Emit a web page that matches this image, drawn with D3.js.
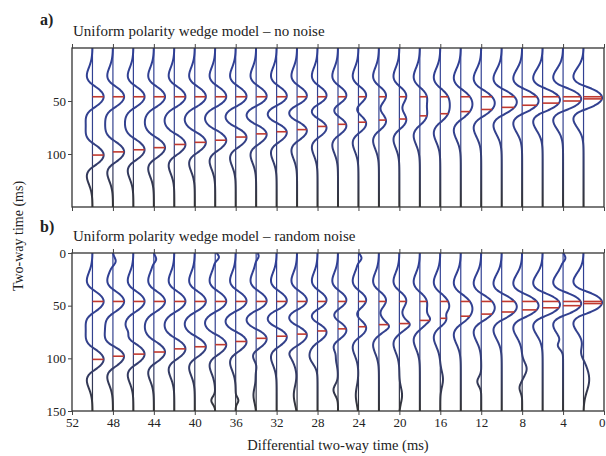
<!DOCTYPE html>
<html>
<head>
<meta charset="utf-8">
<script src="https://cdn.jsdelivr.net/npm/d3@7"></script>
<style>
  body { margin: 0; background: #fff; }
  text { font-family: "Liberation Serif", "DejaVu Serif", serif; fill: #222; }
</style>
</head>
<body>
<svg id="chart" width="606" height="456"></svg>
<script>
// wedge model: one trace every 2 ms of differential time
const traceDt = [50, 48, 46, 44, 42, 40, 38, 36, 34, 32, 30, 28, 26, 24, 22, 20, 18, 16, 14, 12, 10, 8, 6, 4, 2];
// reflector times (ms)
const topTime = 46;
const baseTime = [101, 98, 96, 94, 91, 89, 87, 84, 81, 79, 77, 74, 72, 70, 68, 67, 64, 62, 60, 58, 56, 54, 52, 50, 48];
const waveletFreq = 19.5; // Hz

// noise bumps seen on panel b: trace, time (ms), amplitude, width (ms)
const noiseDt    = [48, 48, 46, 44, 38, 38, 36, 34, 34, 34, 30, 30, 28, 26, 26, 24, 24, 22, 20, 20, 18, 16, 16, 12, 8, 8, 4, 4, 2, 2];
const noiseTime  = [8, 85, 75, 6, 4, 140, 140, 3, 105, 135, 95, 135, 100, 95, 130, 5, 135, 70, 68, 135, 63, 58, 120, 122, 110, 128, 88, 5, 120, 95];
const noiseAmp   = [0.25, -0.2, 0.25, 0.2, 0.3, -0.3, 0.2, 0.2, 0.35, -0.2, -0.2, -0.25, -0.3, 0.2, -0.35, 0.25, -0.2, 0.3, 0.35, 0.2, 0.3, -0.3, 0.2, -0.3, 0.35, -0.2, -0.35, 0.2, 0.45, -0.2];
const noiseWidth = [5, 8, 5, 4, 4, 5, 4, 4, 8, 10, 5, 12, 8, 6, 7, 4, 12, 4, 4, 10, 4, 5, 10, 6, 8, 6, 5, 4, 15, 8];

const xTicks = [52, 48, 44, 40, 36, 32, 28, 24, 20, 16, 12, 8, 4, 0];
const yTicksA = [50, 100];
const yTicksB = [0, 50, 100, 150];

const svg = d3.select("#chart");
const x = d3.scaleLinear().domain([52, 0]).range([72, 604]);
const GAIN = 14; // px per unit amplitude (after display compression)

function ricker(t) {
    let a = Math.PI * waveletFreq * t / 1000;
    return (1 - 2 * a * a) * Math.exp(-a * a);
}

function traceValue(i, t, withNoise) {
    let v = ricker(t - topTime) + ricker(t - baseTime[i]);
    if (withNoise) {
        for (let k = 0; k < noiseDt.length; k++) {
            if (noiseDt[k] == traceDt[i]) {
                let u = (t - noiseTime[k]) / noiseWidth[k];
                v += noiseAmp[k] * Math.exp(-u * u);
            }
        }
    }
    // soft display gain so the tuned traces don't overrun their neighbours
    return v / (1 + 0.25 * Math.abs(v));
}

const panels = [
    {label: "a)", title: "Uniform polarity wedge model \u2013 no noise", top: 48, bottom: 207, noise: false, yTicks: yTicksA, labelY: 25, titleY: 36, xLabels: false},
    {label: "b)", title: "Uniform polarity wedge model \u2013 random noise", top: 253, bottom: 411, noise: true, yTicks: yTicksB, labelY: 232, titleY: 241, xLabels: true}
];

const defs = svg.append("defs");

panels.forEach((p, pi) => {
    let y = d3.scaleLinear().domain([0, 150]).range([p.top, p.bottom]);

    // blue at the top of the traces, going dark toward the bottom
    let grad = defs.append("linearGradient").attr("id", "tr" + pi)
        .attr("gradientUnits", "userSpaceOnUse")
        .attr("x1", 0).attr("x2", 0).attr("y1", p.top).attr("y2", p.bottom);
    grad.append("stop").attr("offset", "0%").attr("stop-color", "#2f3f95");
    grad.append("stop").attr("offset", "55%").attr("stop-color", "#34428e");
    grad.append("stop").attr("offset", "100%").attr("stop-color", "#333");

    defs.append("clipPath").attr("id", "clip" + pi).append("rect")
        .attr("x", 72).attr("y", p.top).attr("width", 532).attr("height", p.bottom - p.top);

    let g = svg.append("g");
    let plot = g.append("g").attr("clip-path", "url(#clip" + pi + ")");

    let times = [];
    for (let t = 0; t <= 150; t += 0.5) times.push(t);

    traceDt.forEach((dt, i) => {
        let x0 = x(dt);
        plot.append("line")
            .attr("x1", x0).attr("x2", x0).attr("y1", p.top).attr("y2", p.bottom)
            .attr("stroke", "url(#tr" + pi + ")").attr("stroke-width", 1.2);

        let line = d3.line()
            .x(t => x0 + GAIN * traceValue(i, t, p.noise))
            .y(t => y(t))
            .curve(d3.curveBasis);
        plot.append("path").datum(times)
            .attr("d", line)
            .attr("fill", "none")
            .attr("stroke", "url(#tr" + pi + ")")
            .attr("stroke-width", 2);

        // reflector markers
        [topTime, baseTime[i]].forEach(rt => {
            plot.append("line")
                .attr("x1", x0).attr("x2", x0 + GAIN * traceValue(i, rt, p.noise))
                .attr("y1", y(rt)).attr("y2", y(rt))
                .attr("stroke", "#c0392f").attr("stroke-width", 1.6);
        });
    });

    // frame and axes
    g.append("rect").attr("x", 72).attr("y", p.top).attr("width", 532).attr("height", p.bottom - p.top)
        .attr("fill", "none").attr("stroke", "#333").attr("stroke-width", 1.3);

    let yAxis = g.append("g").attr("transform", "translate(72,0)")
        .call(d3.axisLeft(y).tickValues(p.yTicks).tickSize(4).tickPadding(2));
    let xBottom = g.append("g").attr("transform", "translate(0," + p.bottom + ")")
        .call(d3.axisBottom(x).tickValues(xTicks).tickSize(4).tickPadding(3)
            .tickFormat(p.xLabels ? d3.format("d") : () => ""));
    let xTop = g.append("g").attr("transform", "translate(0," + p.top + ")")
        .call(d3.axisTop(x).tickValues(xTicks).tickSize(4).tickFormat(() => ""));

    [yAxis, xBottom, xTop].forEach(a => {
        a.select(".domain").remove();
        a.selectAll("line").attr("stroke", "#444");
        a.selectAll("text").style("font-family", '"Liberation Serif", serif').style("font-size", "13px").attr("fill", "#222");
    });
    // last label sits on the page edge; keep it inside
    xBottom.selectAll(".tick").filter(d => d == 0).select("text").attr("text-anchor", "end").attr("dx", 1);

    g.append("text").attr("x", 40).attr("y", p.labelY)
        .style("font-size", "16px").style("font-weight", "bold").text(p.label);
    g.append("text").attr("x", 73).attr("y", p.titleY)
        .style("font-size", "15px").text(p.title);
});

svg.append("text").attr("x", 338).attr("y", 450).attr("text-anchor", "middle")
    .style("font-size", "14.5px").text("Differential two-way time (ms)");
svg.append("text").attr("transform", "translate(23,236) rotate(-90)").attr("text-anchor", "middle")
    .style("font-size", "14px").text("Two-way time (ms)");
</script>
</body>
</html>
